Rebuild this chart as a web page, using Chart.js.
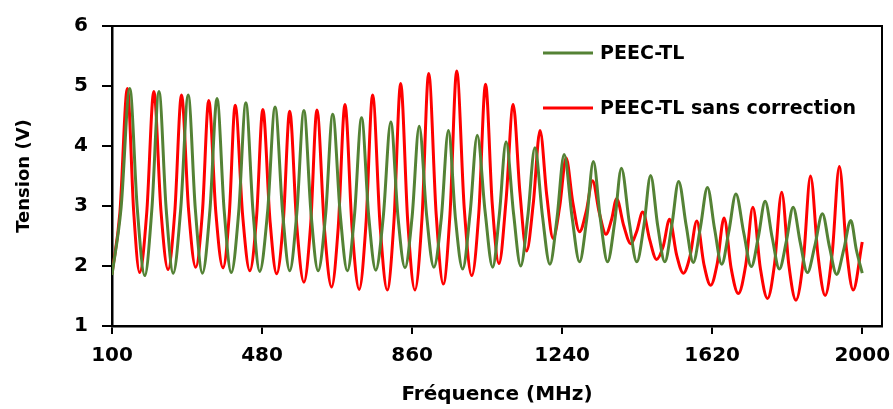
<!DOCTYPE html>
<html>
<head>
<meta charset="utf-8">
<script src="https://cdn.jsdelivr.net/npm/chart.js@4.4.1/dist/chart.umd.min.js"></script>
<style>
  html, body { margin: 0; padding: 0; background: #fff; }
</style>
</head>
<body>
<canvas id="tensionChart" width="893" height="409"></canvas>
<script>
/* Data (frequency in MHz, tension in V):
   trough, rising flank, peak, falling flank, ... */
const freqTL = [
  100, 123, 145, 164, 183, 201, 219, 237, 255, 274, 293, 311,
  329, 348, 366, 384, 402, 421, 439, 457, 474, 494, 513, 532,
  550, 568, 586, 604, 622, 641, 659, 678, 696, 714, 732, 750,
  768, 787, 806, 824, 842, 860, 878, 897, 915, 934, 952, 970,
  988, 1007, 1025, 1045, 1064, 1081, 1098, 1117, 1135, 1153, 1171, 1190,
  1209, 1227, 1245, 1265, 1284, 1302, 1319, 1337, 1355, 1373, 1390, 1410,
  1429, 1447, 1464, 1482, 1500, 1518, 1535, 1554, 1572, 1590, 1608, 1626,
  1644, 1662, 1680, 1700, 1719, 1737, 1754, 1772, 1790, 1808, 1825, 1843,
  1861, 1880, 1899, 1917, 1935, 1953, 1971, 1985, 2000,
];
const voltTL = [
  1.85, 2.97, 4.96, 2.96, 1.84, 2.95, 4.91, 2.97, 1.88, 2.95, 4.85, 2.95,
  1.88, 2.93, 4.79, 2.93, 1.89, 2.91, 4.72, 2.92, 1.91, 2.90, 4.65, 2.90,
  1.92, 2.88, 4.59, 2.88, 1.92, 2.86, 4.53, 2.86, 1.92, 2.84, 4.47, 2.84,
  1.93, 2.82, 4.40, 2.84, 1.97, 2.82, 4.33, 2.83, 1.98, 2.80, 4.26, 2.78,
  1.95, 2.89, 4.18, 2.90, 1.98, 2.86, 4.07, 2.87, 2.00, 2.83, 3.97, 2.84,
  2.03, 2.80, 3.86, 2.82, 2.07, 2.77, 3.74, 2.77, 2.07, 2.73, 3.63, 2.73,
  2.07, 2.67, 3.51, 2.67, 2.07, 2.69, 3.41, 2.68, 2.06, 2.64, 3.31, 2.62,
  2.03, 2.57, 3.20, 2.55, 1.99, 2.49, 3.08, 2.47, 1.95, 2.42, 2.98, 2.39,
  1.89, 2.34, 2.87, 2.32, 1.86, 2.27, 2.76, 2.27, 1.88,
];

const freqNoCorr = [
  100, 120, 139, 155, 170, 188, 206, 224, 242, 259, 276, 294,
  312, 329, 345, 363, 381, 397, 412, 431, 449, 466, 482, 500,
  517, 534, 550, 568, 586, 603, 619, 638, 656, 673, 690, 708,
  726, 743, 760, 779, 797, 814, 831, 849, 867, 885, 902, 921,
  939, 956, 973, 992, 1011, 1029, 1046, 1063, 1080, 1098, 1116, 1133,
  1150, 1167, 1184, 1201, 1217, 1234, 1250, 1267, 1284, 1301, 1317, 1334,
  1351, 1365, 1378, 1396, 1414, 1429, 1444, 1462, 1479, 1496, 1512, 1530,
  1547, 1564, 1581, 1599, 1616, 1633, 1650, 1668, 1686, 1705, 1723, 1742,
  1760, 1778, 1796, 1814, 1832, 1851, 1869, 1888, 1906, 1924, 1942, 1960,
  1977, 2000,
];
const voltNoCorr = [
  1.87, 2.89, 4.96, 2.90, 1.89, 2.89, 4.91, 2.92, 1.94, 2.90, 4.85, 2.93,
  1.98, 2.90, 4.76, 2.89, 1.97, 2.86, 4.68, 2.83, 1.92, 2.81, 4.61, 2.77,
  1.87, 2.76, 4.58, 2.67, 1.73, 2.68, 4.60, 2.62, 1.65, 2.65, 4.69, 2.63,
  1.61, 2.68, 4.85, 2.67, 1.60, 2.74, 5.04, 2.74, 1.60, 2.79, 5.21, 2.86,
  1.70, 2.87, 5.25, 2.97, 1.84, 2.89, 5.03, 3.03, 2.04, 3.10, 4.69, 3.23,
  2.25, 3.05, 4.26, 3.18, 2.46, 3.00, 3.80, 3.06, 2.57, 2.91, 3.42, 2.89,
  2.53, 2.77, 3.12, 2.67, 2.37, 2.58, 2.90, 2.43, 2.11, 2.33, 2.78, 2.18,
  1.88, 2.17, 2.75, 2.03, 1.68, 2.05, 2.80, 1.96, 1.54, 2.02, 2.98, 1.96,
  1.46, 2.04, 3.23, 2.02, 1.43, 2.11, 3.50, 2.17, 1.51, 2.22, 3.66, 2.28,
  1.60, 2.40,
];

const xTicks = [100, 480, 860, 1240, 1620, 2000];
const seriesNames = ["PEEC-TL", "PEEC-TL sans correction"];
const seriesColors = ["#548235", "#FF0000"];

const toPoints = (xs, ys) => xs.map((x, i) => ({ x: x, y: ys[i] }));

/* legend drawn inside the plot, top right */
const insideLegend = {
  id: "insideLegend",
  afterDraw(chart) {
    const { ctx } = chart;
    ctx.save();
    ctx.font = 'bold 19px "DejaVu Sans"';
    ctx.textBaseline = "middle";
    chart.data.datasets.forEach((ds, i) => {
      const y = 53 + i * 55;
      ctx.strokeStyle = ds.borderColor;
      ctx.lineWidth = 3;
      ctx.beginPath();
      ctx.moveTo(543, y);
      ctx.lineTo(593, y);
      ctx.stroke();
      ctx.fillStyle = "#000";
      ctx.fillText(ds.label, 600, y + 1);
    });
    ctx.restore();
  },
};

/* thin frame on the top and right sides of the plot */
const plotFrame = {
  id: "plotFrame",
  afterDatasetsDraw(chart) {
    const { ctx, chartArea: a } = chart;
    ctx.save();
    ctx.strokeStyle = "#000";
    ctx.lineWidth = 2;
    ctx.beginPath();
    ctx.moveTo(a.left, a.top);
    ctx.lineTo(a.right, a.top);
    ctx.lineTo(a.right, a.bottom);
    ctx.stroke();
    ctx.restore();
  },
};

const tickFont = { family: "DejaVu Sans", size: 20, weight: "bold" };

const tensionChart = new Chart(document.getElementById("tensionChart"), {
  type: "line",
  data: {
    datasets: [
      {
        label: seriesNames[0],
        data: toPoints(freqTL, voltTL),
        borderColor: seriesColors[0],
        borderWidth: 3,
        pointRadius: 0,
        cubicInterpolationMode: "monotone",
      },
      {
        label: seriesNames[1],
        data: toPoints(freqNoCorr, voltNoCorr),
        borderColor: seriesColors[1],
        borderWidth: 3,
        pointRadius: 0,
        cubicInterpolationMode: "monotone",
      },
    ],
  },
  options: {
    responsive: false,
    animation: false,
    layout: { padding: { top: 21, right: 11, left: 0, bottom: 0 } },
    plugins: {
      legend: { display: false },
      tooltip: { enabled: false },
    },
    scales: {
      x: {
        type: "linear",
        min: 100,
        max: 2050,
        afterBuildTicks: (scale) => {
          scale.ticks = xTicks.map((v) => ({ value: v }));
        },
        afterFit: (scale) => {
          scale.height = 83;
          scale.paddingLeft = 0;
          scale.paddingRight = 0;
        },
        border: { display: true, color: "#000", width: 2.5 },
        grid: { display: true, drawOnChartArea: false, drawTicks: true, tickLength: 8, color: "#000", lineWidth: 2 },
        ticks: {
          autoSkip: false,
          maxRotation: 0,
          padding: 10,
          color: "#000",
          font: tickFont,
          callback: (v) => String(v),
        },
        title: {
          display: true,
          text: "Fréquence (MHz)",
          color: "#000",
          font: { family: "DejaVu Sans", size: 20, weight: "bold" },
          padding: { top: 0, bottom: 2 },
        },
      },
      y: {
        min: 1,
        max: 6,
        afterFit: (scale) => {
          scale.width = 112;
        },
        border: { display: true, color: "#000", width: 2.5 },
        grid: { display: true, drawOnChartArea: false, drawTicks: true, tickLength: 10, color: "#000", lineWidth: 2 },
        ticks: { stepSize: 1, padding: 14, color: "#000", font: tickFont },
        title: {
          display: true,
          text: "Tension (V)",
          color: "#000",
          font: { family: "DejaVu Sans", size: 18, weight: "bold" },
          padding: { top: 14, bottom: 0 },
        },
      },
    },
  },
  plugins: [insideLegend, plotFrame],
});
</script>
</body>
</html>
